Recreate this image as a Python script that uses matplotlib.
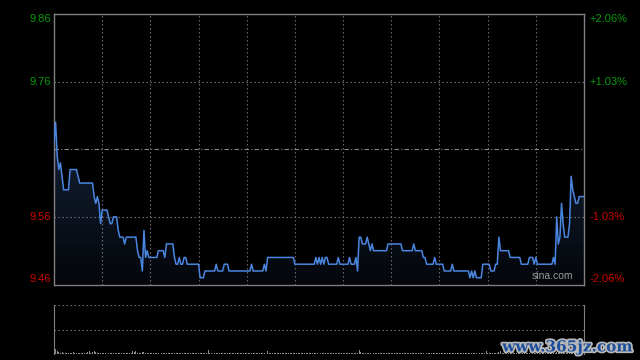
import numpy as np
import matplotlib
matplotlib.use("Agg")
import matplotlib.pyplot as plt
import matplotlib.patheffects as pe
from matplotlib.colors import LinearSegmentedColormap
from matplotlib.patches import PathPatch
from matplotlib.transforms import blended_transform_factory

plt.rcParams["font.family"] = ["Liberation Sans", "DejaVu Sans"]

# intraday price, one value per minute (HK session 09:30-12:00, 13:00-16:00)
price = [
    9.67, 9.70, 9.65, 9.63, 9.64, 9.62, 9.60, 9.60, 9.60, 9.60,
    9.63, 9.63, 9.63, 9.63, 9.63, 9.62, 9.61, 9.61, 9.61, 9.61,
    9.61, 9.61, 9.61, 9.61, 9.61, 9.59, 9.58, 9.59, 9.58, 9.55,
    9.57, 9.57, 9.57, 9.57, 9.56, 9.55, 9.55, 9.56, 9.56, 9.56,
    9.54, 9.53, 9.53, 9.53, 9.52, 9.53, 9.53, 9.53, 9.53, 9.53,
    9.53, 9.53, 9.51, 9.50, 9.50, 9.48, 9.54, 9.50, 9.51, 9.50,
    9.50, 9.50, 9.50, 9.50, 9.50, 9.51, 9.51, 9.51, 9.51, 9.50,
    9.52, 9.52, 9.52, 9.52, 9.52, 9.50, 9.49, 9.49, 9.50, 9.49,
    9.49, 9.50, 9.50, 9.49, 9.49, 9.49, 9.49, 9.49, 9.49, 9.49,
    9.49, 9.47, 9.47, 9.47, 9.48, 9.48, 9.48, 9.48, 9.48, 9.48,
    9.48, 9.49, 9.48, 9.48, 9.48, 9.48, 9.49, 9.49, 9.49, 9.48,
    9.48, 9.48, 9.48, 9.48, 9.48, 9.48, 9.48, 9.48, 9.48, 9.48,
    9.48, 9.48, 9.48, 9.49, 9.48, 9.48, 9.48, 9.48, 9.48, 9.48,
    9.48, 9.49, 9.48, 9.50, 9.50, 9.50, 9.50, 9.50, 9.50, 9.50,
    9.50, 9.50, 9.50, 9.50, 9.50, 9.50, 9.50, 9.50, 9.50, 9.50,
    9.49, 9.49, 9.49, 9.49, 9.49, 9.49, 9.49, 9.49, 9.49, 9.49,
    9.49, 9.49, 9.49, 9.50, 9.49, 9.50, 9.49, 9.50, 9.49, 9.50,
    9.50, 9.49, 9.49, 9.49, 9.49, 9.49, 9.49, 9.50, 9.49, 9.49,
    9.49, 9.49, 9.49, 9.49, 9.50, 9.49, 9.49, 9.49, 9.50, 9.48,
    9.53, 9.53, 9.52, 9.52, 9.52, 9.53, 9.52, 9.51, 9.52, 9.51,
    9.51, 9.51, 9.51, 9.51, 9.51, 9.51, 9.51, 9.51, 9.52, 9.52,
    9.52, 9.52, 9.52, 9.52, 9.52, 9.52, 9.52, 9.51, 9.51, 9.51,
    9.51, 9.51, 9.51, 9.51, 9.52, 9.51, 9.51, 9.51, 9.51, 9.51,
    9.50, 9.50, 9.49, 9.49, 9.49, 9.49, 9.49, 9.50, 9.49, 9.49,
    9.49, 9.49, 9.49, 9.48, 9.48, 9.48, 9.48, 9.48, 9.49, 9.48,
    9.48, 9.48, 9.48, 9.48, 9.48, 9.48, 9.48, 9.48, 9.48, 9.47,
    9.48, 9.47, 9.48, 9.47, 9.47, 9.47, 9.47, 9.49, 9.49, 9.49,
    9.49, 9.49, 9.48, 9.48, 9.48, 9.49, 9.49, 9.53, 9.51, 9.51,
    9.51, 9.51, 9.51, 9.51, 9.50, 9.50, 9.50, 9.50, 9.50, 9.50,
    9.50, 9.49, 9.49, 9.49, 9.49, 9.49, 9.50, 9.50, 9.50, 9.49,
    9.50, 9.49, 9.49, 9.49, 9.49, 9.49, 9.49, 9.49, 9.49, 9.49,
    9.49, 9.50, 9.49, 9.56, 9.52, 9.53, 9.58, 9.55, 9.53, 9.53,
    9.53, 9.55, 9.62, 9.60, 9.59, 9.58, 9.58, 9.59, 9.59, 9.59, 9.59,
]

# volume per minute (relative units)
volume = [
    2, 5, 3, 2, 1, 2, 1, 1, 1, 1,
    1, 1, 2, 1, 1, 1, 1, 1, 1, 1,
    1, 2, 3, 1, 2, 3, 2, 1, 1, 1,
    1, 1, 1, 1, 1, 1, 1, 1, 1, 1,
    1, 1, 1, 1, 1, 1, 1, 1, 1, 3,
    2, 3, 1, 1, 1, 2, 2, 1, 1, 1,
    1, 1, 1, 1, 1, 1, 1, 1, 1, 1,
    1, 1, 1, 1, 1, 1, 1, 1, 1, 1,
    1, 1, 1, 1, 1, 1, 1, 1, 1, 1,
    1, 1, 1, 1, 1, 1, 4, 1, 1, 1,
    1, 1, 1, 1, 1, 1, 1, 1, 1, 1,
    1, 1, 1, 1, 1, 1, 1, 1, 1, 1,
    1, 1, 1, 1, 1, 1, 1, 1, 1, 1,
    1, 1, 1, 3, 1, 1, 1, 1, 1, 1,
    1, 1, 1, 1, 1, 1, 1, 1, 1, 1,
    1, 1, 1, 1, 1, 1, 1, 1, 1, 1,
    1, 1, 1, 1, 1, 1, 1, 1, 1, 1,
    1, 1, 1, 1, 1, 1, 1, 1, 1, 1,
    1, 1, 1, 1, 1, 1, 1, 1, 1, 1,
    4, 2, 1, 1, 1, 1, 1, 1, 1, 1,
    1, 1, 1, 1, 1, 1, 1, 1, 1, 1,
    1, 1, 1, 1, 1, 1, 1, 1, 1, 1,
    1, 1, 1, 1, 1, 1, 1, 1, 1, 1,
    1, 1, 1, 1, 1, 1, 1, 1, 1, 1,
    1, 1, 1, 1, 1, 1, 1, 1, 1, 1,
    1, 1, 1, 1, 1, 1, 1, 1, 1, 1,
    1, 1, 1, 1, 1, 1, 1, 1, 1, 3,
    1, 1, 1, 1, 1, 1, 1, 2, 3, 1,
    1, 1, 1, 1, 1, 1, 1, 1, 1, 1,
    1, 1, 1, 1, 1, 1, 1, 1, 1, 1,
    1, 1, 1, 1, 1, 1, 1, 1, 1, 1,
    1, 1, 1, 2, 3, 2, 4, 2, 1, 2,
    2, 1, 3, 2, 1, 1, 1, 1, 1, 1, 1,
]

prev_close = 9.66
price_ticks = [9.86, 9.76, 9.56, 9.46]
price_labels = ["9.86", "9.76", "9.56", "9.46"]
pct_labels = ["+2.06%", "+1.03%", "-1.03%", "-2.06%"]
grid_minutes = [30, 60, 90, 120, 150, 180, 210, 240, 270, 300]

GREEN = "#0a9a0a"
RED = "#d00000"
FRAME = "#808080"
GRID = "#7a7a7a"

fig = plt.figure(figsize=(6.4, 3.6), dpi=100, facecolor="black")
ax = fig.add_axes([54 / 640, 1 - 284.5 / 360, 530 / 640, 270.5 / 360], facecolor="black")
axv = fig.add_axes([54 / 640, 1 - 354 / 360, 530 / 640, 49 / 360], facecolor="black")

x = np.arange(len(price))
ymin, ymax = 9.46, 9.86

# gradient fill under the price line
fill = ax.fill_between(x, price, ymin, color="none", lw=0)
clip = PathPatch(fill.get_paths()[0], transform=ax.transData, facecolor="none", edgecolor="none")
ax.add_patch(clip)
cmap = LinearSegmentedColormap.from_list("fill", ["#04060a", "#0e1726", "#17253d"])
grad = np.linspace(0, 1, 256).reshape(-1, 1)
im = ax.imshow(grad, extent=[0, len(price) - 1, ymin, 9.74], origin="lower",
               aspect="auto", cmap=cmap, zorder=1)
im.set_clip_path(clip)

ax.plot(x, price, color="#4a86e0", lw=1.1, zorder=3)

# grid
for m in grid_minutes:
    ax.axvline(m, color=GRID, lw=0.8, ls=(0, (1.2, 2.4)), zorder=2)
for p in [9.76, 9.56]:
    ax.axhline(p, color=GRID, lw=0.8, ls=(0, (1.2, 2.4)), zorder=2)
ax.axhline(prev_close, color="#8a8a8a", lw=0.8, ls=(0, (4, 2, 1, 2)), zorder=2)

ax.set_xlim(0, len(price) - 1)
ax.set_ylim(ymin, ymax)
ax.set_xticks([])
ax.set_yticks([])
for s in ax.spines.values():
    s.set_color(FRAME)
    s.set_linewidth(1)

# axis labels
tr = blended_transform_factory(ax.transAxes, ax.transData)
for i, (p, lab, pct) in enumerate(zip(price_ticks, price_labels, pct_labels)):
    va = "top" if i == 0 else ("bottom" if i == len(price_ticks) - 1 else "center")
    col = GREEN if p > prev_close else RED
    ax.text(-0.006, p, lab, transform=tr, ha="right", va=va, color=col, fontsize=8)
    ax.text(1.011, p, pct, transform=tr, ha="left", va=va, color=col, fontsize=8)

ax.text(0.979, 0.012, "sina.com", transform=ax.transAxes, ha="right", va="bottom",
        color="#9a9a9a", fontsize=7.5, zorder=4)

# volume panel
axv.bar(x, volume, width=0.6, color="#8c8c8c", lw=0)
axv.set_xlim(0, len(price) - 1)
axv.set_ylim(0, 49)
for yv in [49, 24.5, 0.3]:
    axv.axhline(yv, color=GRID, lw=0.8, ls=(0, (1.2, 2.4)))
axv.set_xticks([])
axv.set_yticks([])
axv.spines["top"].set_visible(False)
axv.spines["bottom"].set_visible(False)
axv.spines["left"].set_color(FRAME)
axv.spines["right"].set_color(FRAME)

fig.text(0.988, 0.035, "www.365jz.com", ha="right", va="center", color="#1d4f9c",
         fontsize=11, fontweight="bold", family="DejaVu Serif",
         path_effects=[pe.withStroke(linewidth=2.5, foreground="#b8b8b8")])

fig.savefig("out.png", dpi=100, facecolor="black")
